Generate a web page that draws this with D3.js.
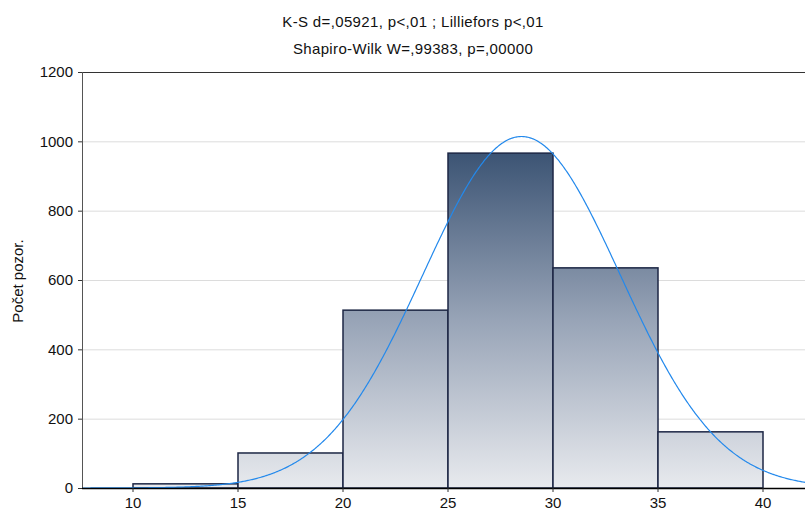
<!DOCTYPE html>
<html><head><meta charset="utf-8">
<script src="https://cdn.jsdelivr.net/npm/d3@7"></script>
<style>body{margin:0;background:#fff;}svg{display:block;font-family:"Liberation Sans",Arial,sans-serif;}</style>
</head><body>
<script>
const binStarts = [10, 15, 20, 25, 30, 35];
const binWidth = 5;
const counts = [12, 101, 513, 966, 635, 162];
const yTicks = [0, 200, 400, 600, 800, 1000, 1200];
const xTicks = [10, 15, 20, 25, 30, 35, 40];
const titleLines = ["K-S d=,05921, p<,01 ; Lilliefors p<,01", "Shapiro-Wilk W=,99383, p=,00000"];
const yLabel = "Počet pozor.";
const fitMean = 28.5, fitSd = 4.7;

const W = 805, H = 511;
const svg = d3.select("body").append("svg").attr("width", W).attr("height", H);
const pLeft = 82, pTop = 72, pBottom = 488;
const x = d3.scaleLinear().domain([10, 40]).range([133, 763]);
const y = d3.scaleLinear().domain([0, 1200]).range([pBottom, pTop]);

const defs = svg.append("defs");
const grad = defs.append("linearGradient").attr("id", "g").attr("gradientUnits", "userSpaceOnUse")
  .attr("x1", 0).attr("x2", 0).attr("y1", y(d3.max(counts))).attr("y2", y(0));
grad.append("stop").attr("offset", 0).attr("stop-color", "#3c5474");
grad.append("stop").attr("offset", 0.5).attr("stop-color", "#98a4b7");
grad.append("stop").attr("offset", 1).attr("stop-color", "#e8eaee");
defs.append("clipPath").attr("id", "clip").append("rect").attr("x", pLeft).attr("y", pTop).attr("width", W - pLeft).attr("height", pBottom - pTop);

// grid
svg.append("g").selectAll("line").data(yTicks.filter(d => d > 0 && d < 1200)).join("line")
  .attr("x1", pLeft).attr("x2", W).attr("y1", d => y(d) + 0.5).attr("y2", d => y(d) + 0.5)
  .attr("stroke", "#dcdcdc").attr("stroke-width", 1);

// bars
svg.append("g").selectAll("rect").data(counts).join("rect")
  .attr("x", (d, i) => x(binStarts[i]))
  .attr("width", (d, i) => x(binStarts[i] + binWidth) - x(binStarts[i]))
  .attr("y", d => y(d)).attr("height", d => y(0) - y(d))
  .attr("fill", "url(#g)").attr("stroke", "#1c2644").attr("stroke-width", 1.5);

// curve
const pts = d3.range(pLeft, W + 1, 1).map(px => {
  const v = x.invert(px);
  const c = d3.sum(counts) * binWidth / (fitSd * Math.sqrt(2 * Math.PI)) * Math.exp(-((v - fitMean) ** 2) / (2 * fitSd * fitSd));
  return [px, y(c)];
});
svg.append("path").attr("clip-path", "url(#clip)").attr("d", d3.line()(pts))
  .attr("fill", "none").attr("stroke", "#2389ec").attr("stroke-width", 1.2);

// frame
svg.append("line").attr("x1", pLeft).attr("x2", W).attr("y1", pTop + 0.5).attr("y2", pTop + 0.5).attr("stroke", "#333");
svg.append("line").attr("x1", pLeft + 0.5).attr("x2", pLeft + 0.5).attr("y1", pTop).attr("y2", pBottom).attr("stroke", "#555");
svg.append("line").attr("x1", pLeft).attr("x2", W).attr("y1", pBottom + 0.5).attr("y2", pBottom + 0.5).attr("stroke", "#000").attr("stroke-width", 1.5);

// y axis ticks & labels
const ya = svg.append("g");
ya.selectAll("line").data(yTicks).join("line").attr("x1", pLeft - 4).attr("x2", pLeft)
  .attr("y1", d => y(d) + 0.5).attr("y2", d => y(d) + 0.5).attr("stroke", "#333");
ya.selectAll("text").data(yTicks).join("text").attr("x", 73).attr("y", d => y(d)).attr("dy", "0.35em")
  .attr("text-anchor", "end").attr("font-size", 15).attr("fill", "#111").text(d => d);

// x axis
const xa = svg.append("g");
xa.selectAll("line").data(xTicks).join("line").attr("x1", d => x(d)).attr("x2", d => x(d))
  .attr("y1", pBottom).attr("y2", pBottom + 4).attr("stroke", "#333");
xa.selectAll("text").data(xTicks).join("text").attr("x", d => x(d)).attr("y", 508)
  .attr("text-anchor", "middle").attr("font-size", 15).attr("fill", "#111").text(d => d);

// titles
svg.selectAll(".t").data(titleLines).join("text").attr("class", "t")
  .attr("x", 413).attr("y", (d, i) => 27 + i * 27).attr("text-anchor", "middle")
  .attr("font-size", 15).attr("letter-spacing", 0.35).attr("fill", "#111").text(d => d);

svg.append("text").attr("transform", "translate(23,281) rotate(-90)").attr("text-anchor", "middle")
  .attr("font-size", 15).attr("fill", "#111").text(yLabel);
</script>
</body></html>
